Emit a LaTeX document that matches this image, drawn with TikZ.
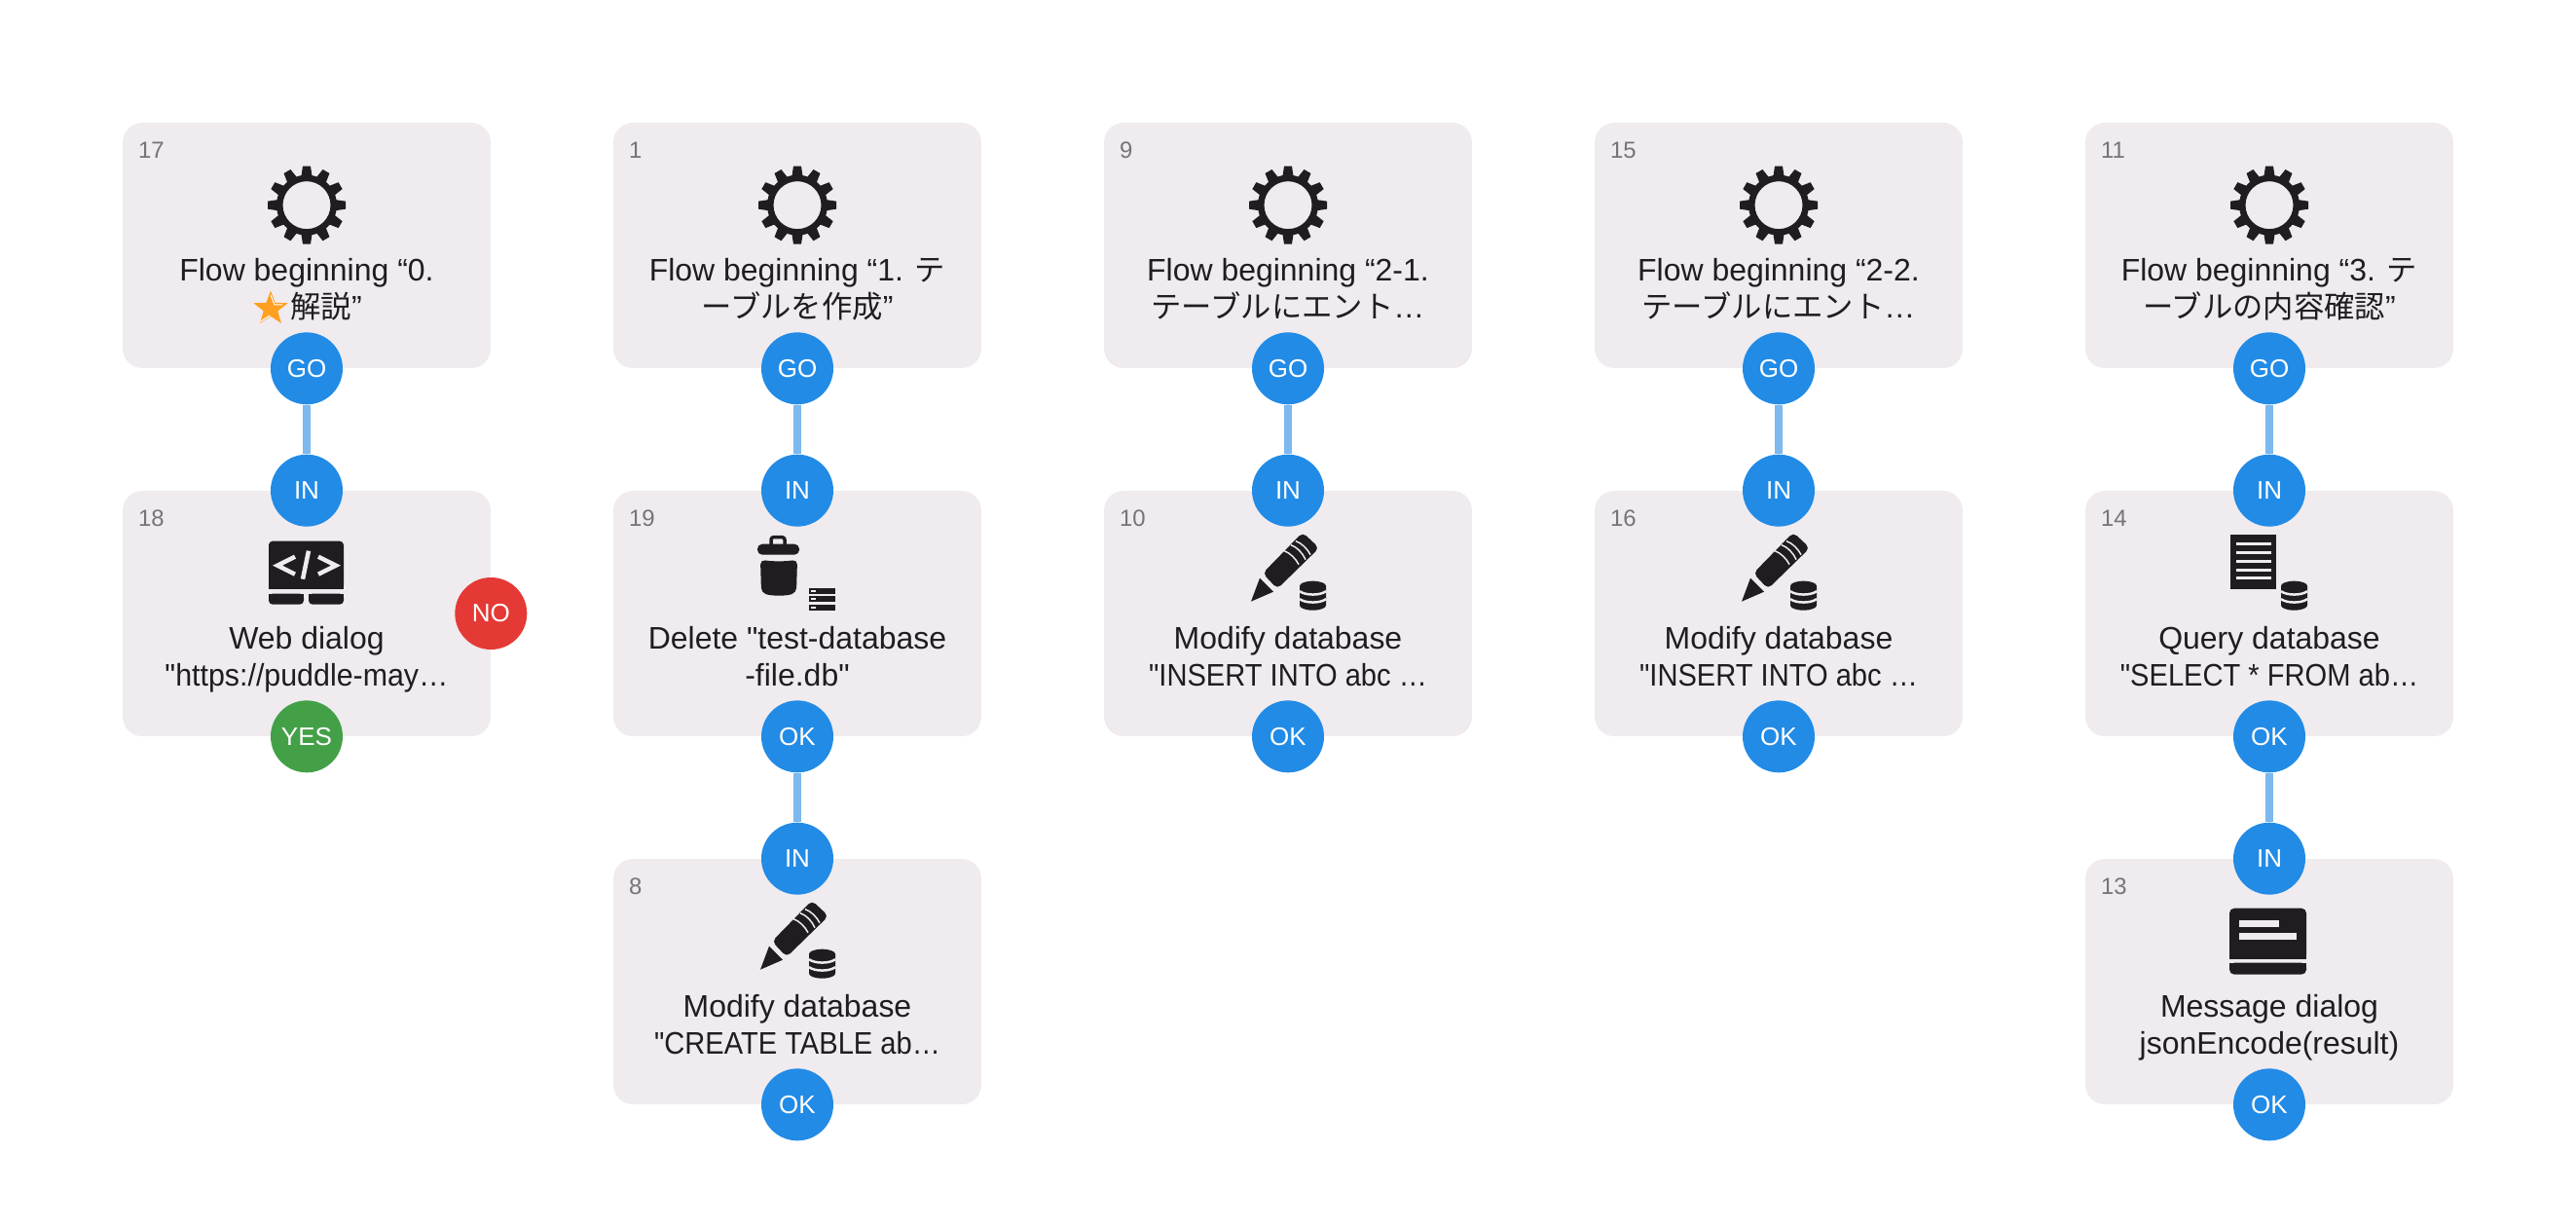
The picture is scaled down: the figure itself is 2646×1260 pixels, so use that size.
\documentclass[tikz,border=0pt]{standalone}
\usepackage{fontspec}
\setmainfont{Liberation Sans}[Ligatures=TeXOff]
\newfontfamily\narrowfont{Liberation Sans}[Ligatures=TeXOff,FakeStretch=0.91]
\newfontfamily\tightfont{Liberation Sans}[Ligatures=TeXOff,FakeStretch=0.95]
\newfontfamily\cjk{Noto Sans CJK JP}[Scale=0.98]
\usetikzlibrary{shapes.geometric}
\definecolor{cardfill}{HTML}{EFEBEF}
\definecolor{inkcol}{HTML}{201D21}
\definecolor{numcol}{HTML}{757575}
\definecolor{portblue}{HTML}{228BE6}
\definecolor{portgreen}{HTML}{43A047}
\definecolor{portred}{HTML}{E53935}
\definecolor{wirecol}{HTML}{7DB8EF}
\definecolor{starcol}{HTML}{FFA020}
\tikzset{
	card/.style={fill=cardfill,rounded corners=0.4cm,minimum width=7.56cm,minimum height=5.04cm,inner sep=0pt},
	cardtext/.style={text=inkcol,font=\fontsize{18.2}{21.6}\selectfont,align=center,anchor=base,inner sep=0pt},
	cardnum/.style={text=numcol,font=\fontsize{13.6}{16}\selectfont,anchor=base west,inner sep=0pt},
	port/.style={circle,fill=portblue,text=white,minimum size=1.48cm,inner sep=0pt,font=\fontsize{14.8}{18}\selectfont},
	wire/.style={draw=wirecol,line width=0.16cm},
	dbicon/.pic={
		\fill[inkcol] (12,98) arc[start angle=180,end angle=360,x radius=13.5,y radius=5] -- (39,118) arc[start angle=0,end angle=180,x radius=13.5,y radius=5] -- cycle;
		\draw[cardfill,line width=0.05cm] (12,103.5) .. controls (18,108) and (33,108) .. (39,103.5);
		\draw[cardfill,line width=0.05cm] (12,111.5) .. controls (18,116) and (33,116) .. (39,111.5);
	},
	gearicon/.pic={
		\fill[inkcol,even odd rule] (0,85) circle[radius=31] (0,85) circle[radius=24.5];
		\foreach \a in {0,30,...,330}
			\fill[inkcol,shift={(0,85)},rotate=\a] (-5.5,-30) -- (-4,-40) -- (4,-40) -- (5.5,-30) -- cycle;
	},
	webicon/.pic={
		\fill[inkcol,rounded corners=0.08cm] (-39,52) -- (38,52) -- (38,101) -- (-39,101) -- cycle;
		\fill[inkcol] (-39,90) rectangle (38,101);
		\fill[inkcol,rounded corners=0.08cm] (-39,106) -- (-39,117) -- (-3,117) -- (-3,106) -- cycle;
		\fill[inkcol,rounded corners=0.08cm] (2,106) -- (2,117) -- (38,117) -- (38,106) -- cycle;
		\fill[inkcol] (-39,106) rectangle (-3,110);
		\fill[inkcol] (2,106) rectangle (38,110);
		\draw[cardfill,line width=0.09cm,line join=miter] (-12,68) -- (-30,77) -- (-12,86);
		\draw[cardfill,line width=0.09cm] (2,62) -- (-4,91);
		\draw[cardfill,line width=0.09cm,line join=miter] (12,68) -- (30,77) -- (12,86);
	},
	trashicon/.pic={
		\draw[inkcol,line width=0.07cm,rounded corners=0.05cm] (-27,57) -- (-27,48) -- (-13,48) -- (-13,57);
		\fill[inkcol,rounded corners=0.1cm] (-41,55) rectangle (2,66);
		\fill[inkcol,rounded corners=0.1cm] (-38,71) .. controls (-25,73) and (-13,73) .. (0,71) -- (-1,105) .. controls (-12,108.5) and (-26,108.5) .. (-37,105) -- cycle;
		\fill[inkcol] (12,100) rectangle (39,106);
		\fill[inkcol] (12,108) rectangle (39,114);
		\fill[inkcol] (12,117) rectangle (39,123);
		\fill[cardfill] (14,102) rectangle (19,104);
		\fill[cardfill] (14,110) rectangle (19,112);
		\fill[cardfill] (14,119) rectangle (19,121);
	},
	penicon/.pic={
		\fill[inkcol] (-38,114) -- (-29,90) -- (-15,104) -- cycle;
		\fill[inkcol,rounded corners=0.1cm] (-26,85) -- (15,43) -- (32,59) -- (-11,101) -- cycle;
		\draw[cardfill,line width=0.03cm] (-4,62) .. controls (2,64) and (8,70) .. (11,76);
		\draw[cardfill,line width=0.03cm] (3,56) .. controls (9,58) and (15,64) .. (18,71);
		\draw[cardfill,line width=0.03cm] (8,52) .. controls (14,54) and (20,60) .. (23,66);
		\pic at (0,0) {dbicon};
	},
	docicon/.pic={
		\fill[inkcol] (-40,45) rectangle (7,101);
		\fill[cardfill] (-34,53.5) rectangle (2,56.5);
		\fill[cardfill] (-34,62.5) rectangle (2,65.5);
		\fill[cardfill] (-34,71.5) rectangle (2,74.5);
		\fill[cardfill] (-34,80.5) rectangle (2,83);
		\fill[cardfill] (-34,88.5) rectangle (2,91);
		\pic at (0,0) {dbicon};
	},
	msgicon/.pic={
		\fill[inkcol,rounded corners=0.1cm] (-41,103) -- (-41,51) -- (38,51) -- (38,103) -- cycle;
		\fill[inkcol] (-41,90) rectangle (38,103);
		\fill[inkcol,rounded corners=0.1cm] (-41,107) -- (-41,119) -- (38,119) -- (38,107) -- cycle;
		\fill[inkcol] (-41,107) rectangle (38,112);
		\fill[cardfill] (-31,63) rectangle (10,70);
		\fill[cardfill] (-31,76) rectangle (28,83);
	},
}
\begin{document}
\begin{tikzpicture}[line cap=butt,line join=round,x=0.02cm,y=-0.02cm]
	\useasboundingbox (0,0) rectangle (2646,1260);
	\node[card] (card17) at (315,252) {};
	\node[card] (card18) at (315,630) {};
	\node[card] (card1) at (819,252) {};
	\node[card] (card19) at (819,630) {};
	\node[card] (card8) at (819,1008) {};
	\node[card] (card9) at (1323,252) {};
	\node[card] (card10) at (1323,630) {};
	\node[card] (card15) at (1827,252) {};
	\node[card] (card16) at (1827,630) {};
	\node[card] (card11) at (2331,252) {};
	\node[card] (card14) at (2331,630) {};
	\node[card] (card13) at (2331,1008) {};
	\node[cardnum] (num17) at ([shift={(16,37)}]card17.north west) {17};
	\node[cardnum] (num18) at ([shift={(16,37)}]card18.north west) {18};
	\node[cardnum] (num1) at ([shift={(16,37)}]card1.north west) {1};
	\node[cardnum] (num19) at ([shift={(16,37)}]card19.north west) {19};
	\node[cardnum] (num8) at ([shift={(16,37)}]card8.north west) {8};
	\node[cardnum] (num9) at ([shift={(16,37)}]card9.north west) {9};
	\node[cardnum] (num10) at ([shift={(16,37)}]card10.north west) {10};
	\node[cardnum] (num15) at ([shift={(16,37)}]card15.north west) {15};
	\node[cardnum] (num16) at ([shift={(16,37)}]card16.north west) {16};
	\node[cardnum] (num11) at ([shift={(16,37)}]card11.north west) {11};
	\node[cardnum] (num14) at ([shift={(16,37)}]card14.north west) {14};
	\node[cardnum] (num13) at ([shift={(16,37)}]card13.north west) {13};
	\pic at (card17.north) {gearicon};
	\pic at (card1.north) {gearicon};
	\pic at (card9.north) {gearicon};
	\pic at (card15.north) {gearicon};
	\pic at (card11.north) {gearicon};
	\pic at (card18.north) {webicon};
	\pic at (card19.north) {trashicon};
	\pic at (card8.north) {penicon};
	\pic at (card10.north) {penicon};
	\pic at (card16.north) {penicon};
	\pic at (card14.north) {docicon};
	\pic at (card13.north) {msgicon};
	\node[cardtext] (text17) at ([yshift=-4.02cm]card17.north) {Flow beginning “0.\\\hspace{0.8cm}{\cjk 解説}”};
	\node[star,star points=5,star point ratio=2.4,fill=starcol,minimum size=0.74cm,inner sep=0pt] (star17) at (278,317) {};
	\draw[white,line width=0.02cm] (278,303) -- (282,313) -- (290,313);
	\draw[white,line width=0.02cm] (268,330) -- (277,324);
	\node[cardtext] (text18) at ([yshift=-4.02cm]card18.north) {Web dialog\\{\tightfont "https://puddle-may…}};
	\node[cardtext] (text1) at ([yshift=-4.02cm]card1.north) {Flow beginning “1. {\cjk テ}\\{\cjk ーブルを作成}”};
	\node[cardtext] (text19) at ([yshift=-4.02cm]card19.north) {Delete "test-database\\-file.db"};
	\node[cardtext] (text8) at ([yshift=-4.02cm]card8.north) {Modify database\\{\narrowfont "CREATE TABLE ab…}};
	\node[cardtext] (text9) at ([yshift=-4.02cm]card9.north) {Flow beginning “2-1.\\{\cjk テーブルにエント}…};
	\node[cardtext] (text10) at ([yshift=-4.02cm]card10.north) {Modify database\\{\narrowfont "INSERT INTO abc …}};
	\node[cardtext] (text15) at ([yshift=-4.02cm]card15.north) {Flow beginning “2-2.\\{\cjk テーブルにエント}…};
	\node[cardtext] (text16) at ([yshift=-4.02cm]card16.north) {Modify database\\{\narrowfont "INSERT INTO abc …}};
	\node[cardtext] (text11) at ([yshift=-4.02cm]card11.north) {Flow beginning “3. {\cjk テ}\\{\cjk ーブルの内容確認}”};
	\node[cardtext] (text14) at ([yshift=-4.02cm]card14.north) {Query database\\{\narrowfont "SELECT * FROM ab…}};
	\node[cardtext] (text13) at ([yshift=-4.02cm]card13.north) {Message dialog\\jsonEncode(result)};
	\node[port] (go17) at (card17.south) {GO};
	\node[port] (in18) at (card18.north) {IN};
	\node[port,fill=portgreen] (yes18) at (card18.south) {YES};
	\node[port,fill=portred] (no18) at (card18.east) {NO};
	\node[port] (go1) at (card1.south) {GO};
	\node[port] (in19) at (card19.north) {IN};
	\node[port] (ok19) at (card19.south) {OK};
	\node[port] (in8) at (card8.north) {IN};
	\node[port] (ok8) at (card8.south) {OK};
	\node[port] (go9) at (card9.south) {GO};
	\node[port] (in10) at (card10.north) {IN};
	\node[port] (ok10) at (card10.south) {OK};
	\node[port] (go15) at (card15.south) {GO};
	\node[port] (in16) at (card16.north) {IN};
	\node[port] (ok16) at (card16.south) {OK};
	\node[port] (go11) at (card11.south) {GO};
	\node[port] (in14) at (card14.north) {IN};
	\node[port] (ok14) at (card14.south) {OK};
	\node[port] (in13) at (card13.north) {IN};
	\node[port] (ok13) at (card13.south) {OK};
	\draw[wire] (go17) -- (in18);
	\draw[wire] (go1) -- (in19);
	\draw[wire] (ok19) -- (in8);
	\draw[wire] (go9) -- (in10);
	\draw[wire] (go15) -- (in16);
	\draw[wire] (go11) -- (in14);
	\draw[wire] (ok14) -- (in13);
\end{tikzpicture}
\end{document}
